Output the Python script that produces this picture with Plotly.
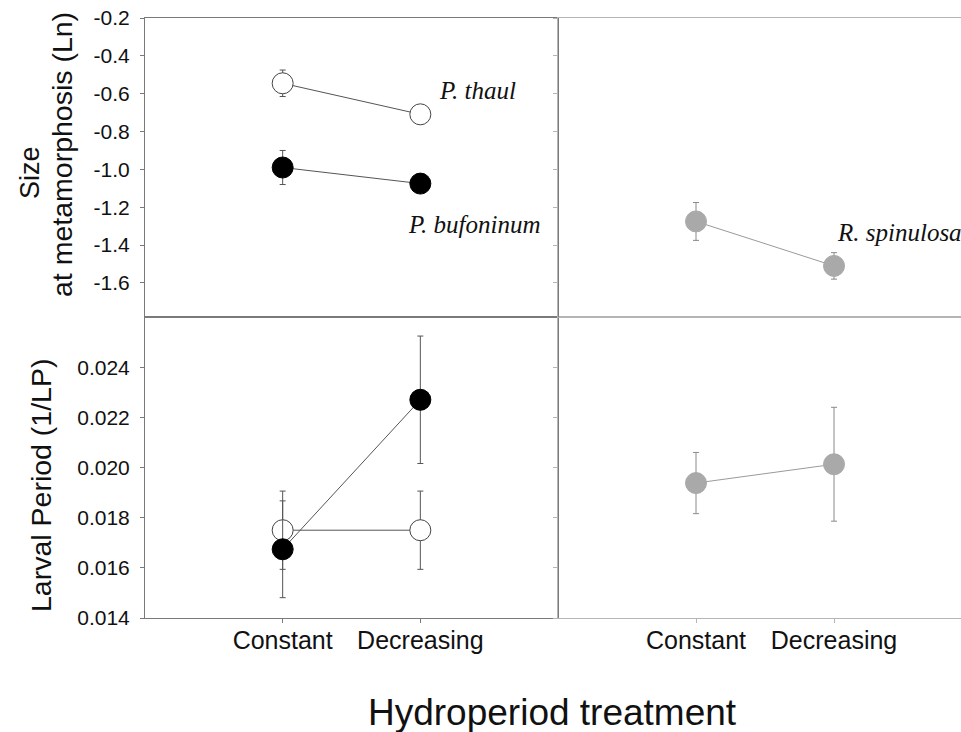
import plotly.graph_objects as go

W, H = 961, 732

# ---------------- data ----------------
treatments = ["Constant", "Decreasing"]

size_thaul = [-0.545, -0.709]
size_thaul_err = [0.07, 0.02]
size_bufo = [-0.99, -1.075]
size_bufo_err = [0.09, 0.02]
size_spin = [-1.275, -1.51]
size_spin_err = [0.10, 0.07]

lp_thaul = [0.0175, 0.0175]
lp_thaul_err = [0.00156, 0.00156]
lp_bufo = [0.01674, 0.0227]
lp_bufo_err = [0.00193, 0.00254]
lp_spin = [0.01938, 0.02013]
lp_spin_err = [0.00122, 0.00227]

size_ticks = [-0.2, -0.4, -0.6, -0.8, -1.0, -1.2, -1.4, -1.6]
size_ticklabels = ["-0.2", "-0.4", "-0.6", "-0.8", "-1.0", "-1.2", "-1.4", "-1.6"]
lp_ticks = [0.014, 0.016, 0.018, 0.020, 0.022, 0.024]
lp_ticklabels = ["0.014", "0.016", "0.018", "0.020", "0.022", "0.024"]

species_labels = ["P. thaul", "P. bufoninum", "R. spinulosa"]

# ---------------- layout helpers ----------------
def px_x(x):
    return x / W

def px_y(y):
    return 1 - y / H

XL = [px_x(145), px_x(558)]
XR = [px_x(558), 1.0]
YT = [px_y(317), px_y(18)]
YB = [px_y(618), px_y(317)]

DARK = "#7a7a7a"
LIGHT = "#b5b5b5"
SPIN = "#a9a9a9"
FONT = "Liberation Sans, Arial, sans-serif"

fig = go.Figure()


def add_series(x, y, err, xa, ya, fill, outline, linecol, errcol):
    fig.add_trace(go.Scatter(
        x=x, y=y, xaxis=xa, yaxis=ya, mode="lines+markers",
        line=dict(color=linecol, width=1),
        marker=dict(size=21, color=fill, line=dict(color=outline, width=1)),
        error_y=dict(type="data", array=err, visible=True, color=errcol,
                     thickness=1, width=3),
        showlegend=False, hoverinfo="skip",
    ))

# top-left: size
add_series(treatments, size_thaul, size_thaul_err, "x3", "y3", "white", "#444", "#555", "#555")
add_series(treatments, size_bufo, size_bufo_err, "x3", "y3", "black", "black", "#555", "#555")
# top-right
add_series(treatments, size_spin, size_spin_err, "x4", "y4", SPIN, SPIN, "#9a9a9a", "#8a8a8a")
# bottom-left: larval period
add_series(treatments, lp_thaul, lp_thaul_err, "x", "y", "white", "#444", "#555", "#555")
add_series(treatments, lp_bufo, lp_bufo_err, "x", "y", "black", "black", "#555", "#555")
# bottom-right
add_series(treatments, lp_spin, lp_spin_err, "x2", "y2", SPIN, SPIN, "#9a9a9a", "#8a8a8a")

xcommon = dict(type="category", categoryorder="array", categoryarray=treatments,
               showgrid=False, zeroline=False, showline=True, mirror=True,
               ticks="outside", ticklen=4, tickwidth=1, automargin=False,
               tickfont=dict(family=FONT, size=25, color="#111"))
ycommon = dict(showgrid=False, zeroline=False, showline=True, mirror=True,
               ticks="outside", ticklen=4, tickwidth=1, automargin=False,
               tickfont=dict(family=FONT, size=21, color="#111"))

fig.update_layout(
    width=W, height=H, autosize=False,
    margin=dict(l=0, r=0, t=0, b=0, pad=0, autoexpand=False),
    paper_bgcolor="white", plot_bgcolor="white",
    xaxis=dict(xcommon, domain=XL, anchor="y", range=[-1, 2],
               linecolor=DARK, tickcolor=DARK, ticklabelstandoff=-4),
    xaxis2=dict(xcommon, domain=XR, anchor="y2", range=[-1, 1.92],
                linecolor=LIGHT, tickcolor=LIGHT, ticklabelstandoff=-4),
    xaxis3=dict(xcommon, domain=XL, anchor="y3", range=[-1, 2],
                showticklabels=False, ticks="", linecolor=DARK),
    xaxis4=dict(xcommon, domain=XR, anchor="y4", range=[-1, 1.92],
                showticklabels=False, ticks="", linecolor=LIGHT),
    yaxis=dict(ycommon, domain=YB, anchor="x", range=[0.014, 0.026],
               tickvals=lp_ticks, ticktext=lp_ticklabels,
               linecolor=DARK, tickcolor=DARK, ticklabelstandoff=6),
    yaxis2=dict(ycommon, domain=YB, anchor="x2", range=[0.014, 0.026],
                tickvals=lp_ticks, showticklabels=False,
                linecolor=LIGHT, tickcolor=LIGHT, mirror=False),
    yaxis3=dict(ycommon, domain=YT, anchor="x3", range=[-1.78, -0.2],
                tickvals=size_ticks, ticktext=size_ticklabels,
                linecolor=DARK, tickcolor=DARK, ticklabelstandoff=6),
    yaxis4=dict(ycommon, domain=YT, anchor="x4", range=[-1.78, -0.2],
                tickvals=size_ticks, showticklabels=False,
                linecolor=LIGHT, tickcolor=LIGHT, mirror=False),
)

serif = dict(family="Liberation Serif, Times New Roman, serif", size=25, color="#111")
annotations = [
    dict(text="<i>%s</i>" % species_labels[0], x=px_x(477), y=px_y(91)),
    dict(text="<i>%s</i>" % species_labels[1], x=px_x(474), y=px_y(224)),
    dict(text="<i>%s</i>" % species_labels[2], x=px_x(835), y=px_y(232), xanchor="left"),
    dict(text="Size", x=px_x(30), y=px_y(173), textangle=-90,
         font=dict(family=FONT, size=27, color="#111")),
    dict(text="at metamorphosis (Ln)", x=px_x(62), y=px_y(155), textangle=-90,
         font=dict(family=FONT, size=28.5, color="#111")),
    dict(text="Larval Period (1/LP)", x=px_x(41), y=px_y(486), textangle=-90,
         font=dict(family=FONT, size=28.5, color="#111")),
    dict(text="Hydroperiod treatment", x=px_x(552), y=px_y(712),
         font=dict(family=FONT, size=37, color="#111")),
]
for a in annotations:
    base = dict(xref="paper", yref="paper", showarrow=False, xanchor="center",
                yanchor="middle", font=serif)
    base.update(a)
    fig.add_annotation(**base)

fig.write_html("out.html")
